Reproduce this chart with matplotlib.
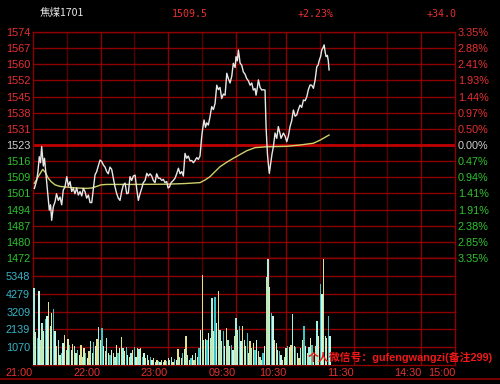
import numpy as np
import matplotlib
matplotlib.use("Agg")
import matplotlib.pyplot as plt
from matplotlib.lines import Line2D

# ---------------- data ----------------
title_name = "焦煤1701"
header_price = "1509.5"
header_pct = "+2.23%"
header_chg = "+34.0"
watermark = "个人微信号：gufengwangzi(备注299)"

# minutes on the trading timeline (0 = 21:00)
price_t = [1.2, 3.3, 4.4, 5.6, 6.7, 7.7, 9.2, 10.2, 12.2, 13.3, 14.5, 15.6, 16.6, 18.0, 19.6,
           20.9, 22.5, 24.0, 25.5, 26.9, 28.4, 30.0, 31.4, 32.9, 34.4, 35.8, 37.3, 38.8, 40.3,
           41.8, 43.3, 44.7, 46.2, 47.7, 49.2, 50.7, 52.2, 53.6, 55.1, 56.6, 57.8, 59.6, 61.1,
           62.5, 64.0, 65.5, 66.9, 68.4, 69.9, 71.4, 72.9, 74.4, 75.8, 77.3, 78.8, 80.3, 81.8,
           83.3, 84.7, 86.2, 87.7, 89.2, 90.7, 92.2, 93.6, 95.1, 96.6, 98.0, 99.6, 101.1, 102.5,
           104.0, 105.5, 106.9, 108.4, 109.9, 111.4, 112.9, 114.4, 115.8, 117.3, 118.8, 120.0,
           121.2, 122.7, 124.7, 126.2, 127.7, 129.2, 130.7, 132.2, 133.6, 135.1, 136.6, 138.0,
           139.6, 141.1, 142.5, 144.0, 145.5, 146.9, 148.4, 149.9, 150.7, 152.0, 153.3, 154.4,
           155.8, 157.3, 158.8, 160.3, 161.8, 163.3, 164.7, 166.2, 167.7, 169.2, 170.7, 172.2,
           173.6, 175.1, 176.6, 178.0, 179.6, 180.4, 181.6, 182.5, 183.3, 184.0, 185.5, 186.9,
           188.4, 189.9, 191.4, 192.9, 194.4, 195.8, 197.3, 198.2, 199.4, 200.3, 201.8, 203.3,
           204.7, 206.2, 207.1, 208.3, 209.2, 210.0, 211.3, 212.4, 213.6, 215.1, 216.6, 218.0,
           219.6, 220.4, 222.5, 224.0, 225.5, 226.9, 228.4, 229.9, 231.4, 232.9, 234.4, 235.8,
           237.3, 238.8, 240.3, 241.8, 243.3, 244.7, 246.2, 247.7, 249.2, 250.7, 252.2, 253.3,
           254.5, 255.6, 256.6, 257.8, 258.7, 259.6, 260.4, 261.6, 262.4, 263.1]
price_v = [1503.4, 1507.0, 1511.0, 1517.7, 1515.0, 1522.3, 1513.5, 1517.0, 1505.7, 1500.0,
           1493.6, 1496.0, 1489.0, 1495.0, 1497.4, 1501.0, 1498.0, 1499.5, 1496.0, 1502.7,
           1504.0, 1508.7, 1504.5, 1506.5, 1502.0, 1503.4, 1501.0, 1503.6, 1500.4, 1502.0,
           1500.0, 1503.4, 1502.0, 1499.0, 1500.4, 1497.0, 1497.0, 1503.0, 1509.5, 1511.0,
           1513.2, 1516.2, 1515.5, 1514.0, 1513.0, 1511.0, 1510.0, 1513.0, 1512.0, 1508.0,
           1504.0, 1501.0, 1499.0, 1498.0, 1502.0, 1505.0, 1505.8, 1501.0, 1501.3, 1508.7,
           1507.0, 1509.0, 1509.4, 1503.0, 1498.0, 1501.0, 1503.4, 1506.0, 1507.0, 1510.2,
           1509.0, 1510.0, 1509.0, 1507.0, 1506.0, 1510.0, 1508.0, 1508.0, 1507.0, 1507.5,
           1506.0, 1506.5, 1503.6, 1504.0, 1506.0, 1507.0, 1508.0, 1510.0, 1512.5, 1510.0,
           1511.0, 1509.0, 1519.2, 1517.0, 1518.0, 1515.8, 1516.0, 1515.0, 1516.0, 1517.3,
           1516.5, 1518.0, 1526.7, 1530.0, 1534.3, 1531.0, 1533.0, 1532.0, 1535.8, 1540.3,
           1539.0, 1541.8, 1550.0, 1548.0, 1549.0, 1544.0, 1546.0, 1545.5, 1555.4, 1553.0,
           1551.0, 1554.0, 1559.9, 1558.0, 1562.9, 1561.0, 1565.9, 1563.0, 1560.0, 1559.0,
           1556.0, 1555.0, 1553.0, 1552.0, 1550.0, 1551.0, 1547.8, 1548.5, 1545.5, 1549.0,
           1552.4, 1549.0, 1547.8, 1548.0, 1547.8, 1531.3, 1519.2, 1514.0, 1510.2, 1515.0,
           1519.0, 1522.2, 1528.4, 1526.0, 1531.3, 1528.0, 1526.0, 1528.4, 1527.0, 1524.5,
           1527.0, 1531.3, 1534.0, 1538.8, 1536.0, 1536.6, 1539.0, 1541.0, 1540.0, 1543.3,
           1543.0, 1544.8, 1548.0, 1550.1, 1550.0, 1548.6, 1552.4, 1558.4, 1559.0, 1561.4,
           1563.0, 1565.9, 1567.0, 1568.2, 1565.0, 1562.9, 1563.5, 1561.0, 1556.9]

avg_t = [1.2, 4.4, 8.6, 11.1, 13.6, 16.0, 19.6, 24.0, 30.0, 38.2, 47.7, 52.4, 56.6, 60.4,
         65.5, 88.9, 118.8, 135.1, 148.4, 152.9, 157.3, 161.8, 166.2, 172.4, 178.0, 184.0,
         189.9, 197.3, 207.7, 225.5, 237.3, 249.2, 255.1, 259.6, 263.1]
avg_v = [1505.7, 1508.5, 1512.0, 1510.5, 1508.0, 1506.5, 1505.0, 1504.3, 1504.0, 1503.6,
         1503.4, 1503.6, 1504.3, 1505.0, 1505.2, 1505.2, 1505.3, 1505.6, 1506.0, 1507.2,
         1508.7, 1511.0, 1513.2, 1515.3, 1517.0, 1518.7, 1520.4, 1521.8, 1522.2, 1522.4,
         1523.0, 1523.8, 1525.2, 1526.5, 1527.5]

vol_a = [4600, 1965, 1622, 4460, 1520, 2533, 2026, 2736, 2939, 3749, 2330, 3141, 3385, 2026,
         1115, 1520, 608, 709, 1317, 1824, 912, 1560, 1216, 912, 1277, 1155, 709, 871, 608,
         1216, 507, 1013, 709, 405, 811, 1419, 709, 1358, 1115, 1560, 2290, 1520, 2229, 1115,
         811, 1622, 709, 608, 912, 709, 507, 1216, 709, 1013, 1682, 1013, 811, 1074, 608, 507,
         709, 912, 1074, 507, 1013, 953, 1013, 507, 709, 405, 608, 304, 507, 304, 405, 203,
         304, 263, 203, 304, 203, 304, 243, 405, 304, 507, 203, 365, 304, 953, 507, 405, 709,
         953, 1723, 608, 304, 405, 608, 304, 709, 507, 1013, 2128, 5371, 1520, 1560, 1520,
         1925, 1622, 3993, 2026, 4053, 2533, 4460, 2128, 1419, 2026, 1115, 2229, 1520, 1115,
         1216, 912, 1723, 2838, 2128, 2330, 1419, 2330, 1520, 1115, 1925, 709]
vol_b = [1419, 1013, 1317, 912, 1520, 811, 507, 304, 709, 1115, 5269, 6384, 4661, 3141,
         2939, 1520, 1317, 912, 811, 608, 304, 507, 1013, 1155, 1074, 1216, 3040, 1155,
         1074, 709, 405, 1013, 1520, 2330, 1115, 709, 1074, 1622, 1216, 709, 1115, 2635,
         1723, 4864, 4256, 6384, 1723, 1622, 2939, 1723]
vol_a_span = (0.9, 192.0)
vol_b_span = (192.9, 264.0)

price_base = 1523.0
price_step = 7.29
price_labels = ["1472", "1480", "1487", "1494", "1501", "1509", "1516", "1523",
                "1531", "1538", "1545", "1552", "1560", "1567", "1574"]
pct_labels = ["3.35%", "2.85%", "2.38%", "1.91%", "1.41%", "0.94%", "0.47%", "0.00%",
              "0.50%", "0.97%", "1.44%", "1.93%", "2.41%", "2.88%", "3.35%"]
vol_ticks = [1070, 2139, 3209, 4279, 5348]
vol_top = 6418
time_ticks = [0, 60, 120, 180, 225, 285, 345, 375]
time_labels = ["21:00", "22:00", "23:00", "09:30", "10:30", "11:30", "14:30", "15:00"]
grid_bright = [60, 120, 180, 225, 285, 345]
grid_dim = [30, 90, 150, 210, 255, 315]
x_end = 375

# ---------------- style ----------------
RED = "#E83030"
GREEN = "#2EC42E"
WHITE = "#D0D0D0"
CYAN = "#38B4C8"
GRID = "#8C0000"
GRID_DIM = "#560000"
LATIN = ["Liberation Sans", "Noto Sans CJK SC"]

W, H = 500, 384
fig = plt.figure(figsize=(W / 100, H / 100), dpi=100, facecolor="black")


def fx(px):
    return px / W


def fy(py):
    return 1 - py / H


ax = fig.add_axes([fx(33), fy(258), fx(455) - fx(33), fy(32) - fy(258)])
axv = fig.add_axes([fx(33), fy(365), fx(455) - fx(33), fy(258) - fy(365)])

for a in (ax, axv):
    a.set_facecolor("black")
    a.set_xlim(0, x_end)
    for s in a.spines.values():
        s.set_color(GRID)
        s.set_linewidth(1.0)
    for xv in grid_dim:
        a.axvline(xv, color=GRID_DIM, lw=1.0, zorder=0)
    for xv in grid_bright:
        a.axvline(xv, color=GRID, lw=1.0, zorder=0)

# price panel
n = len(price_labels)
ticks = [price_base + (i - 7) * price_step for i in range(n)]
ax.set_ylim(ticks[0], ticks[-1])
for i, tv in enumerate(ticks):
    if i == 7:
        ax.axhline(tv, color="#C00000", lw=2.0, zorder=0.5)
    else:
        ax.axhline(tv, color=GRID, lw=1.0, zorder=0.5)
ax.set_yticks(ticks)
ax.set_yticklabels(price_labels)
ax.set_xticks([])
ax.tick_params(axis="y", length=0, pad=2, labelsize=7.8)
for i, lab in enumerate(ax.get_yticklabels()):
    lab.set_family(LATIN)
    lab.set_color(GREEN if i < 7 else (WHITE if i == 7 else RED))

axr = ax.twinx()
axr.set_ylim(ticks[0], ticks[-1])
axr.set_yticks(ticks)
axr.set_yticklabels(pct_labels)
axr.tick_params(axis="y", length=0, pad=2, labelsize=7.8)
for s in axr.spines.values():
    s.set_visible(False)
for i, lab in enumerate(axr.get_yticklabels()):
    lab.set_family(LATIN)
    lab.set_color(GREEN if i < 7 else (WHITE if i == 7 else RED))

ax.plot(avg_t, avg_v, color="#CFCF6A", lw=1.0, zorder=3)
ax.plot(price_t, price_v, color="#E8E8E8", lw=1.0, zorder=4)

# volume panel
vol = list(vol_a) + list(vol_b)
vol_t = list(np.linspace(vol_a_span[0], vol_a_span[1], len(vol_a))) + \
        list(np.linspace(vol_b_span[0], vol_b_span[1], len(vol_b)))
palette = ["#9FF2E4", "#EAEAA2", "#3EC4C4", "#C8F8EC", "#E0E090"]
colors = [palette[i % len(palette)] for i in range(len(vol))]
axv.bar(vol_t, vol, width=1.15, color=colors, zorder=3, linewidth=0)
axv.set_ylim(0, vol_top)
for tv in vol_ticks:
    axv.axhline(tv, color=GRID, lw=1.0, zorder=0.5)
axv.set_yticks(vol_ticks)
axv.set_yticklabels([str(v) for v in vol_ticks])
axv.tick_params(axis="y", length=0, pad=2, labelsize=7.8, labelcolor=CYAN)
for lab in axv.get_yticklabels():
    lab.set_family(LATIN)
axv.set_xticks(time_ticks)
axv.set_xticklabels(time_labels)
axv.tick_params(axis="x", length=0, pad=2, labelsize=7.8, labelcolor=RED)
for lab in axv.get_xticklabels():
    lab.set_family(LATIN)
    lab.set_horizontalalignment("right")

# bottom line
fig.add_artist(Line2D([0, 1], [fy(379), fy(379)], color=GRID, lw=1.2))

# header
fig.text(fx(40), fy(13), title_name, color="#E8E8E8", fontsize=7.6,
         family=["Noto Sans CJK SC", "DejaVu Sans"], va="center", ha="left")
fig.text(fx(172), fy(14), header_price, color=RED, fontsize=7.2,
         family=["DejaVu Sans Mono"], va="center", ha="left")
fig.text(fx(298), fy(14), header_pct, color=RED, fontsize=7.2,
         family=["DejaVu Sans Mono"], va="center", ha="left")
fig.text(fx(427), fy(14), header_chg, color=RED, fontsize=7.2,
         family=["DejaVu Sans Mono"], va="center", ha="left")

# watermark
fig.text(fx(308), fy(357), watermark, color="#F01818", fontsize=7.8, fontweight="bold",
         family=["Liberation Sans", "Noto Sans CJK SC"], va="center", ha="left", zorder=10)

fig.savefig("out.png", dpi=100, facecolor="black")
